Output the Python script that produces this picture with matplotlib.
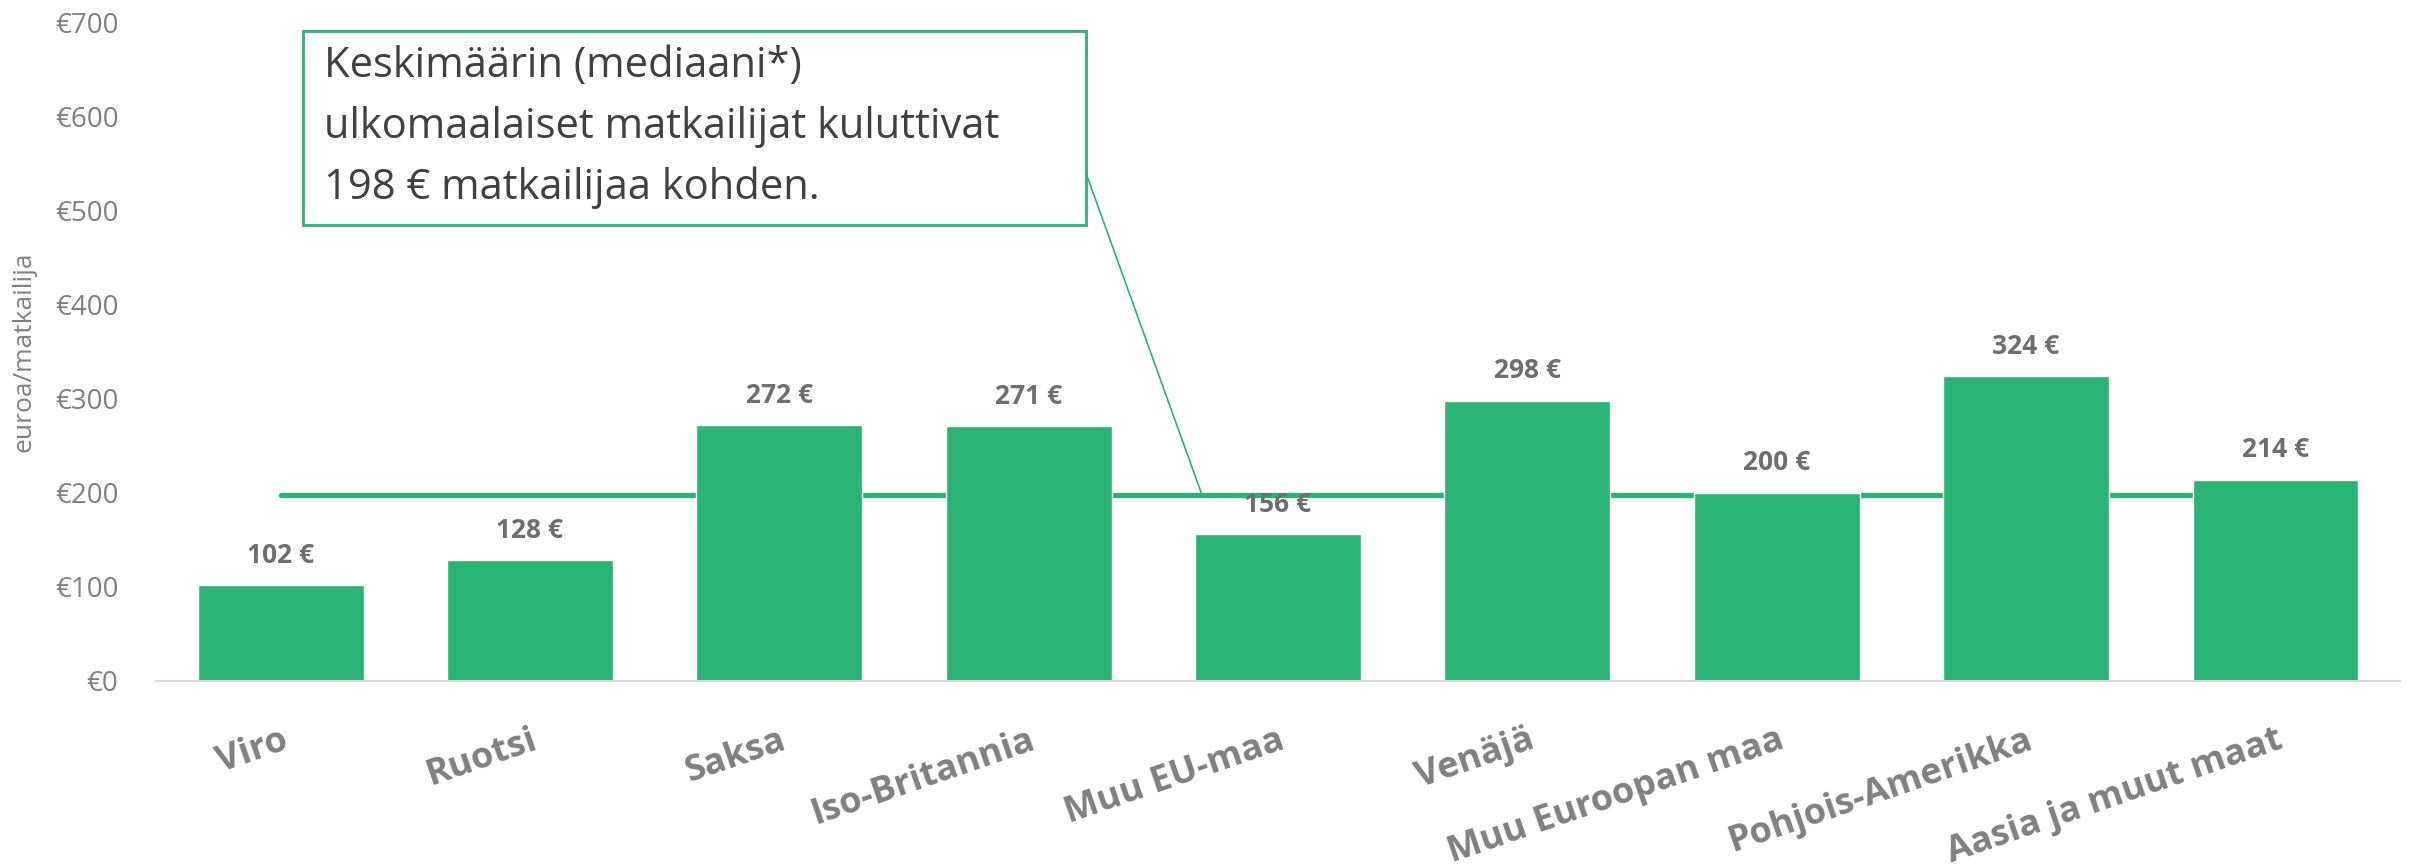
import matplotlib.pyplot as plt
import matplotlib.patheffects as pe
from matplotlib.patches import Rectangle

categories = ['Viro', 'Ruotsi', 'Saksa', 'Iso-Britannia', 'Muu EU-maa',
              'Venäjä', 'Muu Euroopan maa', 'Pohjois-Amerikka', 'Aasia ja muut maat']
spend = [102, 128, 272, 271, 156, 298, 200, 324, 214]
median_spend = 198
y_ticks = [0, 100, 200, 300, 400, 500, 600, 700]
note = ('Keskimäärin (mediaani*)\n'
        'ulkomaalaiset matkailijat kuluttivat\n'
        '198 € matkailijaa kohden.')

green = '#29B473'
grey = '#808080'

plt.rcParams['font.family'] = ['Open Sans', 'DejaVu Sans']

fig = plt.figure(figsize=(24.1, 8.67), dpi=100)
ax = fig.add_axes([0.0647, 0.2149, 0.9312, 0.7589])

x = list(range(len(categories)))

# median line sits behind the bars
ax.plot([x[0], x[-1]], [median_spend, median_spend], color=green, lw=3.8,
        solid_capstyle='round', zorder=1,
        path_effects=[pe.Stroke(linewidth=6, foreground='white'), pe.Normal()])

bars = ax.bar(x, spend, width=0.665, color=green, edgecolor='white',
              linewidth=1, zorder=2)

for xi, v in zip(x, spend):
    ax.annotate(f'{v} €', (xi, v), xytext=(0, 16), textcoords='offset points',
                ha='center', va='baseline', fontsize=19, fontweight='bold',
                color='#6E6E6E')

ax.set_xlim(-0.5, len(categories) - 0.5)
ax.set_ylim(0, 700)
ax.set_yticks(y_ticks)
ax.set_yticklabels([f'€{t}' for t in y_ticks], fontsize=20, color=grey)
ax.set_xticks(x)
ax.set_xticklabels(categories, fontsize=26, fontweight='bold', color=grey,
                   rotation=19, ha='right', va='top', rotation_mode='anchor')
ax.tick_params(axis='y', length=0, pad=27)
ax.tick_params(axis='x', length=0, pad=30)

for s in ['top', 'right', 'left']:
    ax.spines[s].set_visible(False)
ax.spines['bottom'].set_color('#D9D9D9')
ax.spines['bottom'].set_linewidth(1.5)

ax.set_ylabel('euroa/matkailija', fontsize=19, color=grey, labelpad=2)
ax.yaxis.set_label_coords(-0.053, 0.5)

# callout box
ax.add_patch(Rectangle((0.0655, 0.6925), 0.3489, 0.2949, transform=ax.transAxes,
                       facecolor='white', edgecolor=green, lw=2, zorder=5,
                       clip_on=False))
ax.text(0.0749, 0.966, note, transform=ax.transAxes, fontsize=30, color='#404040',
        va='top', ha='left', linespacing=1.58, zorder=6)
ax.annotate('', xy=(3.7, 194), xytext=(0.4127, 0.788), xycoords='data',
            textcoords='axes fraction',
            arrowprops=dict(arrowstyle='-', color=green, lw=1.2), zorder=4)

plt.savefig('out.png', dpi=100)
